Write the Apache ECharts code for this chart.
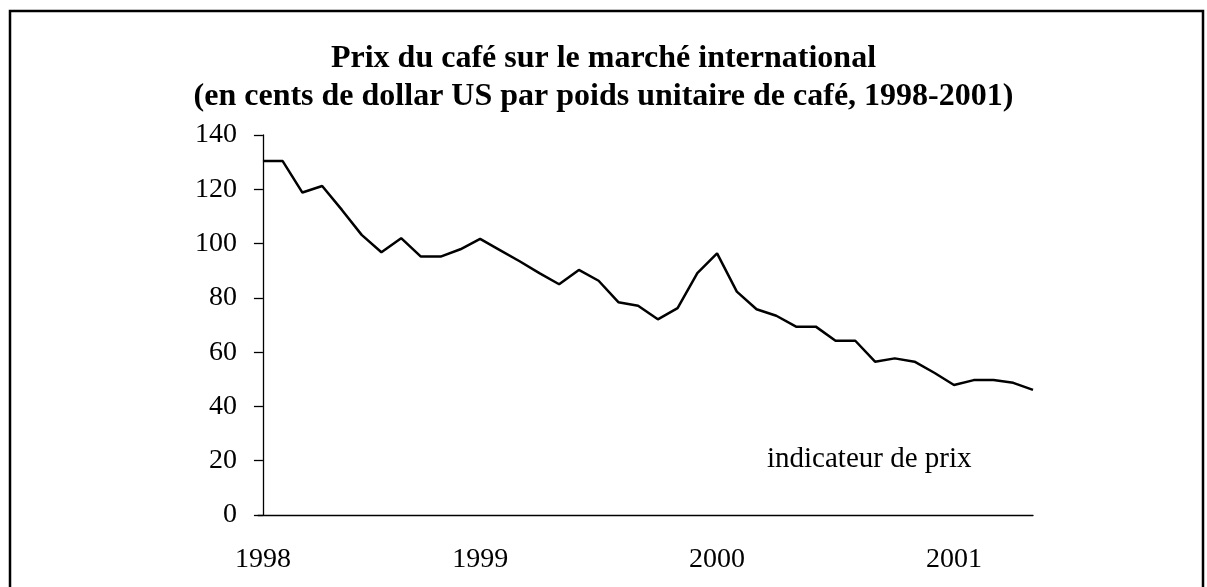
<!DOCTYPE html>
<html>
<head>
<meta charset="utf-8">
<title>Prix du café</title>
<script src="https://cdn.jsdelivr.net/npm/echarts@6/dist/echarts.min.js"></script>
<style>
  html, body { margin: 0; padding: 0; background: #fff; }
  #chart { width: 1207px; height: 587px; }
</style>
</head>
<body>
<div id="chart"></div>
<script>
  // prix mensuel (cents US), de janvier 1998 à avril 2001
  const prix = [
    130.4, 130.4, 118.8, 121.2, 112.4, 103.2, 96.8, 102.0, 95.2, 95.2,
    97.9, 101.7, 97.6, 93.5, 89.1, 85.0, 90.3, 86.3, 78.4, 77.1,
    72.1, 76.2, 89.1, 96.4, 82.3, 75.8, 73.4, 69.4, 69.4, 64.2,
    64.2, 56.5, 57.7, 56.5, 52.4, 47.9, 49.7, 49.7, 48.7, 46.1
  ]
  // étiquettes de l'axe x et leur position (index du mois)
  const annees = ['1998', '1999', '2000', '2001']
  const anneePos = [0, 11, 23, 35]
  const yTicks = [0, 20, 40, 60, 80, 100, 120, 140]

  const serif = '"Liberation Serif", "Times New Roman", serif'

  let chart = echarts.init(document.getElementById('chart'))
  chart.setOption({
    animation: false,
    backgroundColor: '#fff',
    title: {
      text: 'Prix du café sur le marché international\n(en cents de dollar US par poids unitaire de café, 1998-2001)',
      left: 'center',
      top: 40,
      padding: 0,
      textStyle: {
        fontFamily: serif,
        fontWeight: 'bold',
        fontSize: 32,
        lineHeight: 38,
        color: '#000'
      }
    },
    legend: {
      data: ['indicateur de prix'],
      left: 762,
      top: 445,
      padding: 0,
      icon: 'none',
      itemWidth: 0,
      textStyle: { fontFamily: serif, fontSize: 29, color: '#000' }
    },
    grid: { left: 258, right: 174, top: 135, bottom: 72 },
    xAxis: {
      type: 'value',
      min: -0.25,
      max: prix.length - 1,
      splitLine: { show: false },
      axisTick: { show: false },
      axisLine: { show: true, lineStyle: { color: '#000', width: 1.3 } },
      axisLabel: {
        customValues: anneePos,
        formatter: function (v) {
          let i = anneePos.indexOf(v)
          return i >= 0 ? annees[i] : ''
        },
        margin: 31,
        fontFamily: serif,
        fontSize: 28,
        color: '#000'
      }
    },
    yAxis: {
      type: 'value',
      min: yTicks[0],
      max: yTicks[yTicks.length - 1],
      interval: 20,
      splitLine: { show: false },
      axisLine: { show: true, lineStyle: { color: '#000', width: 1.3 } },
      axisTick: { show: true, length: 9, lineStyle: { color: '#000', width: 1.3 } },
      axisLabel: { margin: 21, fontFamily: serif, fontSize: 28, color: '#000' }
    },
    series: [
      {
        name: 'indicateur de prix',
        type: 'line',
        data: prix.map((v, i) => [i, v]),
        symbol: 'none',
        lineStyle: { color: '#000', width: 2.5 },
        itemStyle: { color: '#000' }
      }
    ],
    graphic: [
      {
        type: 'polyline',
        shape: { points: [[10, 587], [10, 11], [1203, 11], [1203, 587]] },
        style: { stroke: '#000', lineWidth: 2.5, fill: null }
      }
    ]
  })
</script>
</body>
</html>
